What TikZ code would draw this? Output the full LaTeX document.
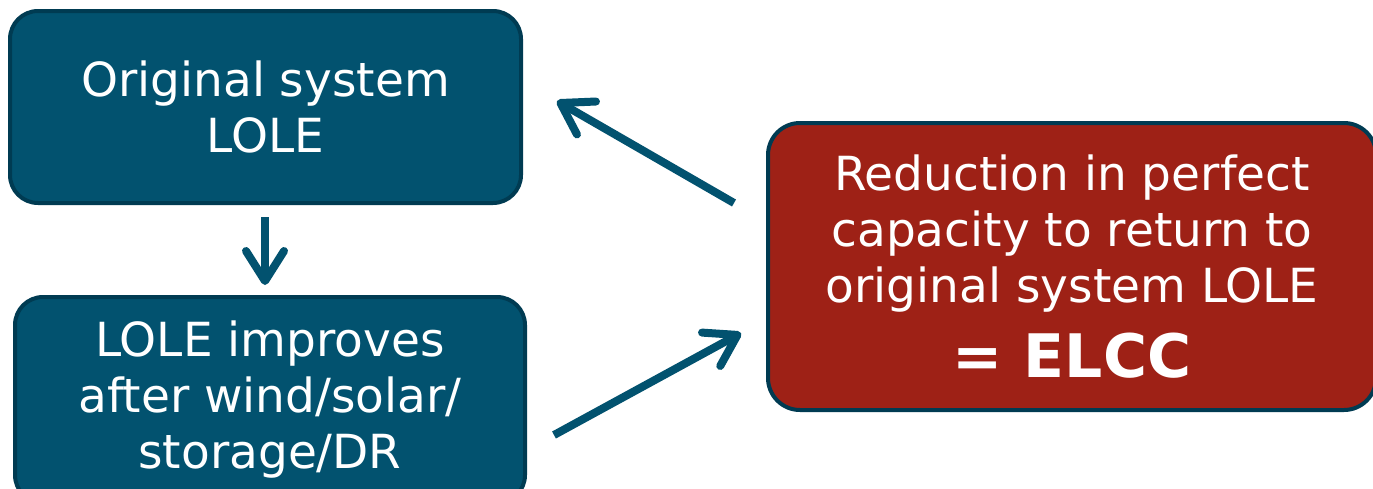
\documentclass[tikz,border=0pt]{standalone}
\usepackage{fontspec}
\setmainfont{DejaVu Sans}
\usetikzlibrary{arrows.meta}
\definecolor{boxblue}{HTML}{02526F}
\definecolor{edgeblue}{HTML}{003B52}
\definecolor{boxred}{HTML}{9E2116}
\tikzset{
  bluebox/.style={draw=edgeblue, line width=4pt, fill=boxblue, rounded corners=28pt,
    text=white, align=center, inner sep=0pt,
    font=\fontsize{47}{56}\selectfont},
  redbox/.style={draw=edgeblue, line width=4pt, fill=boxred, rounded corners=32pt,
    text=white, align=center, inner sep=0pt,
    font=\fontsize{47}{56}\selectfont},
  flow/.style={draw=boxblue, line width=8pt,
    -{Straight Barb[length=30pt, width=38pt, line cap=round, line join=round]}},
}
\begin{document}
\begin{tikzpicture}[x=1pt, y=-1pt]
\useasboundingbox (0,0) rectangle (1373,488);
\clip (0,0) rectangle (1373,488);
\fill[white] (0,0) rectangle (1373,488);
\node[bluebox, minimum width=511pt, minimum height=192pt] (orig) at (265.5,107)
  {Original system\\LOLE};
\node[bluebox, minimum width=510pt, minimum height=206pt] (impr) at (270,400)
  {LOLE improves\\after wind/solar/\\storage/DR};
\node[redbox, minimum width=608pt, minimum height=287pt] (elcc) at (1072,266.5)
  {Reduction in perfect\\capacity to return to\\original system LOLE\\[19pt]
   {\fontsize{60}{60}\selectfont\bfseries = ELCC}};
\coordinate (d1) at (265,217);
\coordinate (d2) at (265,285);
\coordinate (u1) at (734,203);
\coordinate (u2) at (557,101);
\coordinate (l1) at (554,435);
\coordinate (l2) at (741,333);
\draw[flow] (d1) -- (d2);
\draw[flow] (u1) -- (u2);
\draw[flow] (l1) -- (l2);
\end{tikzpicture}
\end{document}
